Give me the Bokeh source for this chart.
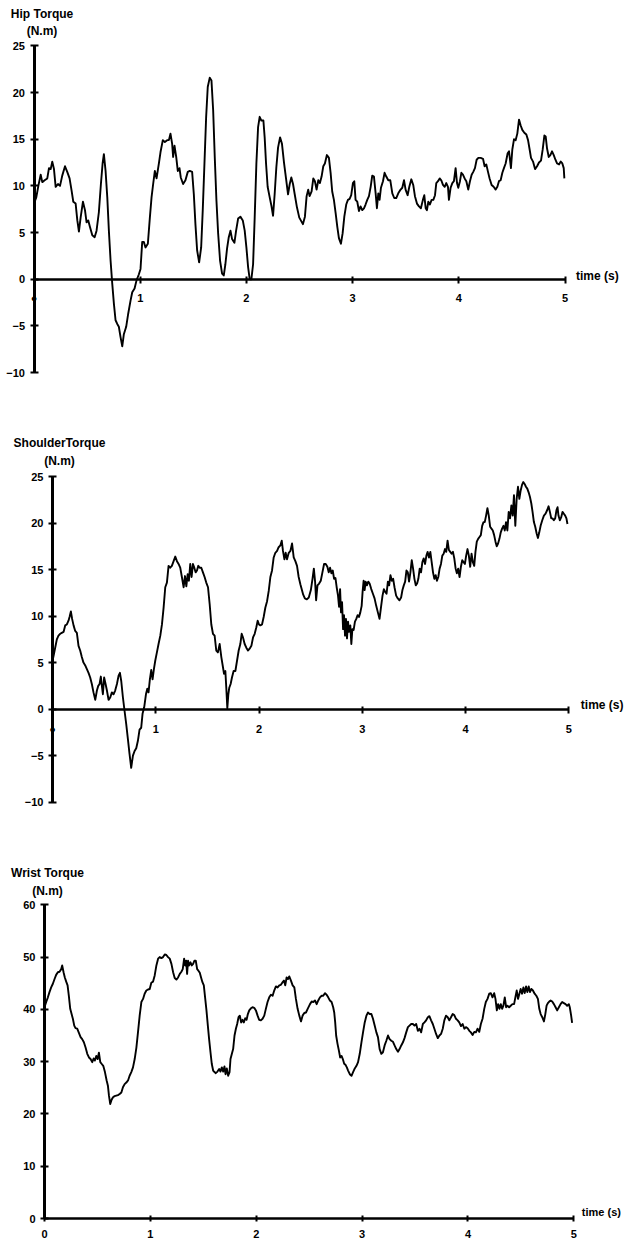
from bokeh.plotting import figure
from bokeh.models import Range1d, LinearAxis, FixedTicker, Label, ColumnDataSource
from bokeh.embed import file_html
from bokeh.resources import INLINE

FONT = "Liberation Sans"
W, H = 625, 1241

time_ticks = [0, 1, 2, 3, 4, 5]
hip_ticks = [-10, -5, 0, 5, 10, 15, 20, 25]
shoulder_ticks = [-10, -5, 0, 5, 10, 15, 20, 25]
wrist_ticks = [0, 10, 20, 30, 40, 50, 60]

# (time s, torque N.m) samples
hip_samples = [
    (0, 8.1), (.022, 8.8), (.041, 10.0), (.063, 11.2), (.078, 10.4), (.1, 10.6), (.125, 10.8), (.141, 11.9),
    (.157, 11.8), (.172, 12.6), (.188, 11.8), (.204, 9.9), (.226, 10.2), (.245, 10.0), (.266, 11.1), (.292, 12.1),
    (.313, 11.5), (.335, 10.8), (.354, 9.5), (.37, 8.3), (.392, 8.1), (.408, 6.3), (.423, 5.1), (.439, 6.6),
    (.461, 8.3), (.48, 7.4), (.495, 6.1), (.511, 6.3), (.527, 5.6), (.549, 4.7), (.571, 4.5), (.589, 5.2),
    (.611, 7.2), (.63, 10.2), (.646, 12.4), (.658, 13.4), (.674, 11.6), (.69, 8.8), (.705, 5.2), (.721, 2.0),
    (.737, -0.5), (.752, -2.6), (.768, -4.4), (.784, -4.8), (.799, -5.1), (.815, -6.2), (.831, -7.2), (.846, -5.9),
    (.868, -5.1), (.887, -3.7), (.909, -2.3), (.925, -1.4), (.947, -1.0), (.966, -0.1), (.987, 0.5), (1.003, 1.1),
    (1.019, 4.0), (1.034, 4.0), (1.05, 3.4), (1.072, 3.8), (1.091, 6.6), (1.107, 8.8), (1.122, 10.2), (1.138, 11.6),
    (1.154, 10.8), (1.176, 12.4), (1.191, 13.6), (1.213, 14.9), (1.232, 14.7), (1.254, 14.9), (1.27, 14.9), (1.285, 15.6),
    (1.301, 14.5), (1.31, 13.1), (1.323, 14.3), (1.339, 13.1), (1.354, 11.6), (1.37, 11.9), (1.382, 10.9), (1.404, 10.2),
    (1.426, 10.6), (1.448, 11.5), (1.467, 11.6), (1.489, 11.5), (1.505, 9.1), (1.52, 5.9), (1.536, 3.1), (1.555, 1.8),
    (1.574, 3.4), (1.589, 7.4), (1.605, 12.4), (1.621, 17.4), (1.636, 20.6), (1.655, 21.6), (1.671, 21.3), (1.687, 18.1),
    (1.702, 13.1), (1.718, 8.4), (1.734, 4.9), (1.752, 2.0), (1.771, 0.6), (1.787, 0.4), (1.802, 1.6), (1.818, 3.3),
    (1.834, 4.5), (1.85, 5.2), (1.865, 4.3), (1.887, 3.9), (1.903, 5.2), (1.922, 6.5), (1.944, 6.7), (1.966, 6.3),
    (1.984, 5.2), (2.0, 3.4), (2.016, 1.3), (2.031, 0.0), (2.047, 0.0), (2.063, 1.6), (2.078, 6.6), (2.094, 12.4),
    (2.11, 16.3), (2.125, 17.4), (2.141, 17.0), (2.16, 17.0), (2.172, 15.2), (2.185, 12.4), (2.2, 9.9), (2.219, 8.8),
    (2.235, 7.9), (2.251, 6.8), (2.266, 9.1), (2.282, 12.0), (2.298, 14.1), (2.317, 15.2), (2.335, 14.5), (2.354, 12.5),
    (2.373, 10.8), (2.392, 9.1), (2.408, 10.2), (2.423, 10.9), (2.439, 10.2), (2.455, 9.1), (2.476, 7.7), (2.498, 6.6),
    (2.532, 5.9), (2.551, 6.7), (2.567, 8.9), (2.582, 9.6), (2.595, 8.9), (2.614, 9.4), (2.63, 10.8), (2.645, 10.5),
    (2.661, 9.6), (2.677, 10.6), (2.692, 10.3), (2.708, 11.0), (2.724, 12.1), (2.739, 12.4), (2.758, 13.3), (2.777, 13.0),
    (2.793, 11.4), (2.808, 9.4), (2.824, 8.5), (2.84, 7.1), (2.856, 5.6), (2.871, 4.4), (2.89, 3.8), (2.906, 4.9),
    (2.922, 6.7), (2.94, 8.0), (2.956, 8.5), (2.972, 8.6), (2.987, 9.0), (3.003, 10.3), (3.016, 10.5), (3.028, 8.5),
    (3.044, 8.3), (3.06, 7.3), (3.075, 7.8), (3.091, 7.4), (3.107, 7.6), (3.122, 8.0), (3.138, 8.5), (3.154, 8.9),
    (3.17, 9.9), (3.185, 11.1), (3.201, 11.0), (3.217, 9.2), (3.229, 7.6), (3.242, 9.2), (3.254, 8.5), (3.267, 9.8),
    (3.286, 10.5), (3.301, 11.4), (3.317, 11.0), (3.336, 10.6), (3.355, 10.6), (3.374, 9.2), (3.392, 8.7), (3.411, 8.7),
    (3.43, 9.2), (3.452, 9.6), (3.468, 9.8), (3.484, 10.6), (3.499, 9.6), (3.518, 9.0), (3.534, 9.9), (3.553, 10.7),
    (3.571, 10.1), (3.587, 8.9), (3.606, 8.1), (3.625, 7.8), (3.643, 7.6), (3.662, 8.5), (3.675, 9.0), (3.688, 7.6),
    (3.7, 7.4), (3.713, 8.3), (3.728, 8.0), (3.744, 8.5), (3.76, 8.5), (3.776, 9.0), (3.788, 10.3), (3.804, 10.5),
    (3.82, 10.8), (3.835, 10.6), (3.851, 10.1), (3.867, 9.9), (3.882, 10.3), (3.898, 9.9), (3.907, 8.5), (3.923, 9.8),
    (3.939, 10.3), (3.954, 10.5), (3.97, 11.9), (3.983, 10.3), (3.995, 9.8), (4.011, 10.5), (4.024, 11.4), (4.039, 11.2),
    (4.055, 10.8), (4.071, 10.5), (4.089, 9.6), (4.105, 10.5), (4.121, 11.2), (4.136, 11.5), (4.152, 11.9), (4.168, 12.8),
    (4.184, 13.0), (4.206, 13.0), (4.228, 12.9), (4.243, 12.1), (4.259, 12.3), (4.275, 11.5), (4.29, 10.8), (4.309, 10.1),
    (4.328, 9.9), (4.347, 9.6), (4.363, 9.9), (4.378, 10.5), (4.394, 10.6), (4.41, 11.4), (4.425, 11.9), (4.441, 12.4),
    (4.46, 13.5), (4.473, 13.7), (4.482, 12.8), (4.491, 11.9), (4.504, 13.9), (4.52, 15.0), (4.535, 14.9), (4.551, 15.6),
    (4.567, 17.1), (4.582, 16.5), (4.598, 16.0), (4.617, 15.7), (4.636, 15.5), (4.652, 14.9), (4.667, 13.9), (4.68, 13.0),
    (4.699, 12.6), (4.718, 11.8), (4.737, 12.1), (4.755, 12.5), (4.774, 12.7), (4.79, 13.9), (4.806, 15.4), (4.818, 15.3),
    (4.831, 14.0), (4.847, 13.1), (4.862, 13.3), (4.878, 13.7), (4.894, 13.3), (4.91, 12.8), (4.925, 12.4), (4.944, 12.3),
    (4.96, 12.6), (4.975, 12.4), (4.988, 11.9), (4.994, 10.8),
]

shoulder_samples = [
    (0, 5.2), (.01, 5.7), (.026, 6.6), (.042, 7.5), (.058, 7.9), (.074, 8.1), (.09, 8.2), (.107, 8.3),
    (.123, 9.0), (.139, 9.1), (.155, 9.5), (.165, 9.9), (.178, 10.5), (.19, 9.7), (.204, 9.0), (.22, 8.4),
    (.236, 8.2), (.252, 6.8), (.268, 6.3), (.284, 5.6), (.3, 5.0), (.317, 4.7), (.333, 4.3), (.349, 3.9),
    (.365, 3.4), (.381, 2.7), (.397, 1.8), (.414, 1.0), (.43, 2.0), (.443, 2.5), (.456, 2.7), (.468, 3.5),
    (.478, 2.5), (.488, 1.6), (.5, 3.4), (.514, 2.7), (.527, 2.0), (.543, 1.0), (.559, 1.25), (.575, 1.8),
    (.591, 1.6), (.607, 2.0), (.624, 2.7), (.64, 3.6), (.653, 3.9), (.666, 3.0), (.682, 1.25), (.698, -0.2),
    (.714, -1.6), (.73, -3.2), (.746, -4.8), (.762, -6.3), (.779, -5.0), (.795, -4.5), (.811, -4.2), (.827, -3.4),
    (.843, -2.2), (.859, -2.0), (.872, -0.5), (.888, 0.2), (.905, 1.6), (.918, 2.2), (.93, 1.8), (.943, 3.2),
    (.956, 4.2), (.969, 3.2), (.982, 4.3), (.995, 5.2), (1.011, 6.1), (1.027, 7.0), (1.044, 7.9), (1.06, 9.1),
    (1.076, 10.9), (1.092, 13.1), (1.108, 13.6), (1.124, 15.4), (1.14, 15.2), (1.156, 15.4), (1.173, 15.9), (1.189, 16.4),
    (1.205, 15.9), (1.221, 15.6), (1.237, 15.2), (1.253, 14.2), (1.27, 13.1), (1.283, 14.3), (1.296, 13.2), (1.309, 14.5),
    (1.321, 13.8), (1.334, 15.6), (1.347, 14.2), (1.36, 15.6), (1.373, 15.2), (1.386, 14.7), (1.399, 14.9), (1.412, 15.4),
    (1.425, 15.2), (1.441, 15.2), (1.457, 14.7), (1.473, 14.2), (1.489, 13.6), (1.506, 13.1), (1.522, 11.3), (1.538, 9.1),
    (1.554, 8.1), (1.57, 7.9), (1.586, 6.3), (1.602, 6.1), (1.619, 7.0), (1.635, 5.6), (1.651, 4.5), (1.661, 3.8),
    (1.674, 4.1), (1.683, 2.3), (1.693, 0.1), (1.703, 1.6), (1.712, 2.3), (1.725, 2.7), (1.738, 3.4), (1.754, 4.1),
    (1.771, 4.1), (1.787, 5.2), (1.803, 6.3), (1.819, 7.0), (1.832, 8.1), (1.845, 7.7), (1.861, 7.0), (1.877, 6.6),
    (1.893, 6.3), (1.909, 6.5), (1.926, 6.8), (1.942, 7.7), (1.958, 8.1), (1.974, 8.8), (1.987, 9.5), (2.0, 9.1),
    (2.013, 9.0), (2.029, 9.1), (2.045, 9.9), (2.061, 10.9), (2.078, 11.6), (2.094, 12.7), (2.11, 14.2), (2.126, 14.9),
    (2.142, 16.3), (2.158, 16.8), (2.175, 17.0), (2.19, 17.4), (2.207, 17.6), (2.22, 18.1), (2.232, 17.0), (2.246, 16.1),
    (2.258, 16.8), (2.271, 16.1), (2.288, 16.8), (2.304, 17.0), (2.32, 17.8), (2.336, 16.3), (2.352, 15.9), (2.368, 15.4),
    (2.384, 14.2), (2.401, 13.4), (2.428, 12.3), (2.444, 11.9), (2.463, 11.8), (2.482, 12.0), (2.502, 12.8), (2.518, 14.0),
    (2.531, 15.1), (2.543, 13.7), (2.553, 11.7), (2.566, 13.3), (2.582, 13.5), (2.598, 13.8), (2.614, 14.7), (2.63, 15.6),
    (2.646, 15.6), (2.662, 15.3), (2.675, 14.7), (2.688, 15.2), (2.701, 14.6), (2.714, 14.9), (2.727, 14.0), (2.74, 14.1),
    (2.752, 13.1), (2.765, 12.2), (2.775, 11.0), (2.785, 12.9), (2.794, 10.4), (2.804, 11.5), (2.814, 8.6), (2.823, 10.1),
    (2.833, 7.9), (2.842, 9.7), (2.852, 7.6), (2.862, 9.4), (2.871, 8.3), (2.884, 9.0), (2.894, 7.0), (2.904, 8.6),
    (2.916, 8.5), (2.929, 9.4), (2.942, 9.7), (2.955, 10.1), (2.968, 9.9), (2.981, 10.4), (2.994, 11.1), (3.003, 12.6),
    (3.013, 13.8), (3.023, 12.8), (3.032, 13.7), (3.045, 13.3), (3.058, 13.7), (3.071, 13.5), (3.087, 12.9), (3.103, 12.4),
    (3.119, 11.9), (3.135, 11.1), (3.151, 10.4), (3.167, 9.7), (3.183, 11.1), (3.196, 12.2), (3.209, 12.9), (3.222, 12.6),
    (3.235, 12.4), (3.248, 13.7), (3.26, 13.3), (3.273, 14.4), (3.286, 13.8), (3.299, 14.0), (3.312, 13.1), (3.328, 12.2),
    (3.344, 11.9), (3.36, 11.7), (3.376, 12.0), (3.389, 12.8), (3.402, 13.3), (3.415, 13.7), (3.428, 14.9), (3.441, 14.7),
    (3.453, 13.7), (3.466, 14.7), (3.479, 16.0), (3.492, 15.1), (3.505, 14.0), (3.518, 13.3), (3.531, 13.5), (3.543, 14.0),
    (3.556, 15.1), (3.569, 14.7), (3.582, 15.8), (3.595, 16.2), (3.608, 15.6), (3.621, 16.5), (3.633, 16.9), (3.646, 16.3),
    (3.659, 16.9), (3.672, 15.8), (3.685, 14.7), (3.698, 14.0), (3.711, 14.4), (3.723, 13.8), (3.736, 14.2), (3.749, 15.1),
    (3.762, 15.6), (3.775, 16.5), (3.788, 16.7), (3.801, 17.2), (3.813, 16.9), (3.826, 18.1), (3.839, 17.1), (3.852, 16.9),
    (3.865, 16.7), (3.878, 16.9), (3.891, 16.2), (3.904, 15.1), (3.916, 14.6), (3.929, 15.1), (3.942, 14.2), (3.955, 15.3),
    (3.968, 16.0), (3.981, 15.8), (3.994, 15.6), (4.006, 16.5), (4.019, 17.2), (4.032, 16.5), (4.045, 15.3), (4.058, 16.7),
    (4.071, 15.8), (4.084, 15.4), (4.096, 16.9), (4.109, 18.0), (4.122, 18.3), (4.135, 18.5), (4.148, 18.7), (4.161, 19.7),
    (4.174, 20.1), (4.186, 20.1), (4.199, 20.8), (4.212, 21.6), (4.225, 20.8), (4.238, 19.6), (4.251, 19.4), (4.264, 19.2),
    (4.277, 18.7), (4.29, 18.0), (4.302, 17.5), (4.315, 17.8), (4.328, 18.3), (4.341, 19.0), (4.354, 19.4), (4.367, 19.7),
    (4.38, 19.2), (4.392, 20.1), (4.405, 19.2), (4.418, 21.2), (4.431, 20.5), (4.444, 21.9), (4.457, 20.8), (4.469, 23.0),
    (4.482, 19.7), (4.495, 22.6), (4.508, 23.9), (4.521, 22.6), (4.534, 23.5), (4.547, 24.1), (4.559, 24.4), (4.572, 24.2),
    (4.585, 23.9), (4.598, 23.7), (4.611, 23.3), (4.624, 22.8), (4.637, 22.1), (4.649, 21.2), (4.662, 20.1), (4.675, 19.6),
    (4.688, 18.9), (4.701, 18.4), (4.714, 19.0), (4.727, 19.7), (4.743, 20.3), (4.759, 20.8), (4.775, 21.0), (4.791, 21.4),
    (4.804, 21.8), (4.817, 21.2), (4.83, 20.5), (4.842, 20.5), (4.855, 20.3), (4.868, 20.5), (4.881, 21.4), (4.891, 21.7),
    (4.9, 20.8), (4.913, 20.3), (4.926, 20.6), (4.939, 21.2), (4.952, 21.0), (4.965, 20.8), (4.977, 20.5), (4.987, 19.9),
]

wrist_samples = [
    (0, 40.4), (.016, 41.4), (.032, 42.3), (.047, 43.3), (.063, 44.2), (.079, 44.9), (.095, 45.8), (.11, 46.6),
    (.126, 47.1), (.142, 47.2), (.158, 47.7), (.167, 48.4), (.18, 47.1), (.192, 46.1), (.205, 45.3), (.218, 44.6),
    (.23, 42.6), (.243, 40.1), (.256, 39.1), (.268, 38.2), (.281, 36.9), (.293, 36.4), (.309, 36.3), (.325, 35.5),
    (.341, 34.7), (.356, 34.3), (.372, 33.7), (.388, 32.7), (.404, 31.5), (.42, 30.8), (.435, 30.5), (.451, 29.9),
    (.464, 30.6), (.476, 30.2), (.489, 31.1), (.502, 30.5), (.514, 31.7), (.527, 29.9), (.539, 29.6), (.555, 29.2),
    (.571, 28.0), (.587, 26.4), (.599, 25.4), (.609, 23.5), (.621, 21.9), (.634, 22.7), (.647, 23.2), (.662, 23.4),
    (.678, 23.5), (.694, 23.6), (.71, 23.8), (.726, 24.1), (.741, 25.1), (.757, 25.7), (.773, 26.0), (.789, 26.4),
    (.804, 27.3), (.82, 28.0), (.836, 28.9), (.852, 30.5), (.868, 32.7), (.883, 35.6), (.899, 38.8), (.915, 41.4),
    (.931, 42.0), (.946, 43.0), (.962, 43.6), (.978, 43.8), (.994, 43.9), (1.009, 45.1), (1.025, 45.3), (1.041, 46.5),
    (1.057, 48.4), (1.073, 49.7), (1.088, 50.0), (1.104, 49.8), (1.12, 50.0), (1.136, 50.5), (1.151, 50.4), (1.167, 50.0),
    (1.183, 49.7), (1.199, 48.7), (1.215, 47.1), (1.23, 46.0), (1.246, 45.7), (1.262, 46.1), (1.278, 46.8), (1.293, 47.2),
    (1.306, 47.7), (1.319, 49.7), (1.328, 48.4), (1.338, 49.3), (1.347, 46.8), (1.356, 49.3), (1.366, 48.4), (1.379, 49.0),
    (1.391, 48.4), (1.404, 48.7), (1.416, 49.3), (1.429, 49.3), (1.442, 47.7), (1.454, 47.4), (1.467, 47.0), (1.479, 46.1),
    (1.492, 45.2), (1.505, 44.6), (1.517, 42.3), (1.53, 39.8), (1.543, 36.9), (1.555, 34.3), (1.568, 31.8), (1.58, 29.6),
    (1.593, 28.3), (1.606, 28.0), (1.618, 27.8), (1.634, 28.1), (1.65, 28.6), (1.662, 28.1), (1.675, 28.9), (1.688, 28.1),
    (1.7, 29.1), (1.71, 27.6), (1.722, 28.7), (1.735, 27.3), (1.748, 28.0), (1.757, 30.5), (1.77, 31.5), (1.782, 32.4),
    (1.795, 35.0), (1.808, 36.3), (1.82, 37.2), (1.833, 38.5), (1.845, 38.8), (1.858, 37.5), (1.871, 38.0), (1.883, 37.5),
    (1.896, 38.3), (1.909, 38.0), (1.921, 39.1), (1.934, 39.8), (1.95, 40.2), (1.965, 40.4), (1.981, 40.3), (1.997, 39.8),
    (2.013, 38.8), (2.028, 38.0), (2.044, 37.9), (2.06, 38.2), (2.076, 38.8), (2.091, 40.1), (2.107, 41.4), (2.123, 42.3),
    (2.139, 42.8), (2.155, 42.6), (2.17, 43.6), (2.186, 44.4), (2.202, 44.2), (2.218, 44.6), (2.233, 44.7), (2.249, 45.2),
    (2.262, 45.5), (2.274, 44.6), (2.287, 46.1), (2.3, 45.8), (2.312, 46.3), (2.328, 45.5), (2.344, 44.6), (2.36, 44.2),
    (2.375, 42.0), (2.391, 40.1), (2.407, 38.8), (2.423, 37.7), (2.438, 38.8), (2.454, 39.3), (2.47, 39.4), (2.486, 40.1),
    (2.508, 41.0), (2.524, 41.5), (2.539, 41.4), (2.555, 41.7), (2.571, 41.0), (2.586, 41.7), (2.602, 42.3), (2.618, 42.6),
    (2.633, 42.6), (2.649, 43.1), (2.665, 42.8), (2.68, 42.3), (2.696, 41.7), (2.712, 41.4), (2.727, 40.4), (2.737, 39.4),
    (2.746, 37.5), (2.755, 35.0), (2.768, 33.4), (2.781, 32.1), (2.793, 30.8), (2.806, 31.1), (2.818, 30.5), (2.831, 29.6),
    (2.843, 29.4), (2.856, 28.9), (2.868, 28.3), (2.884, 27.6), (2.9, 27.3), (2.915, 28.0), (2.931, 28.7), (2.947, 29.2),
    (2.962, 29.9), (2.978, 31.5), (2.994, 33.7), (3.009, 35.6), (3.025, 37.5), (3.041, 38.8), (3.056, 39.4), (3.072, 39.1),
    (3.088, 39.1), (3.103, 38.2), (3.119, 36.9), (3.135, 35.6), (3.15, 34.7), (3.166, 32.4), (3.182, 31.5), (3.197, 31.8),
    (3.213, 33.1), (3.229, 34.0), (3.245, 35.0), (3.26, 34.3), (3.276, 34.0), (3.292, 33.8), (3.307, 33.1), (3.323, 32.4),
    (3.339, 31.9), (3.354, 32.4), (3.37, 33.1), (3.386, 33.7), (3.401, 34.5), (3.417, 35.6), (3.433, 36.6), (3.448, 36.9),
    (3.464, 37.2), (3.48, 37.2), (3.495, 36.9), (3.511, 37.2), (3.527, 35.9), (3.542, 36.3), (3.558, 35.6), (3.574, 37.2),
    (3.589, 37.5), (3.605, 37.9), (3.621, 38.5), (3.636, 38.7), (3.652, 37.9), (3.668, 37.2), (3.683, 36.3), (3.699, 35.3),
    (3.715, 34.5), (3.731, 35.0), (3.746, 35.3), (3.762, 36.3), (3.777, 37.9), (3.793, 38.8), (3.809, 38.5), (3.824, 37.9),
    (3.84, 38.5), (3.856, 39.1), (3.871, 38.9), (3.887, 38.2), (3.903, 37.9), (3.918, 37.5), (3.934, 36.8), (3.95, 37.2),
    (3.966, 36.3), (3.981, 36.6), (3.997, 36.4), (4.013, 35.9), (4.028, 35.6), (4.044, 35.1), (4.06, 35.7), (4.075, 35.6),
    (4.091, 36.3), (4.107, 35.7), (4.122, 37.2), (4.138, 38.2), (4.154, 40.1), (4.169, 41.4), (4.185, 42.0), (4.201, 43.0),
    (4.216, 43.1), (4.232, 42.3), (4.248, 43.1), (4.26, 42.0), (4.273, 39.8), (4.285, 41.0), (4.298, 40.1), (4.31, 41.0),
    (4.323, 40.1), (4.335, 40.7), (4.348, 42.3), (4.361, 40.4), (4.373, 40.7), (4.389, 40.4), (4.404, 40.7), (4.42, 41.0),
    (4.436, 41.0), (4.448, 42.3), (4.461, 43.6), (4.473, 42.0), (4.486, 43.0), (4.498, 43.9), (4.511, 43.0), (4.524, 44.2),
    (4.536, 43.1), (4.549, 44.4), (4.561, 43.3), (4.574, 44.4), (4.586, 43.3), (4.599, 43.9), (4.614, 43.6), (4.63, 43.0),
    (4.646, 42.6), (4.661, 42.0), (4.674, 40.1), (4.687, 39.1), (4.702, 38.5), (4.718, 37.7), (4.731, 39.1), (4.743, 40.7),
    (4.755, 41.2), (4.768, 41.5), (4.781, 41.7), (4.796, 41.5), (4.812, 41.0), (4.828, 40.4), (4.843, 39.8), (4.859, 40.4),
    (4.875, 41.0), (4.89, 41.4), (4.906, 41.2), (4.922, 41.0), (4.937, 40.7), (4.953, 41.0), (4.962, 40.4), (4.975, 38.8),
    (4.984, 37.4),
]


def span_range(v_a, px_a, v_b, px_b, total):
    """Range over the whole canvas such that value v_a lands on pixel px_a and v_b on px_b."""
    k = (v_b - v_a) / (px_b - px_a)
    start = v_a - px_a * k
    return Range1d(start, start + total * k)


p = figure(width=W, height=H, x_range=Range1d(0, W), y_range=Range1d(0, H),
           x_axis_location=None, y_axis_location=None,
           output_backend="svg", toolbar_location=None,
           min_border=0, min_border_left=0, min_border_right=0,
           min_border_top=0, min_border_bottom=0)
p.outline_line_color = None
p.grid.visible = False
p.background_fill_color = "white"
p.border_fill_color = "white"

label_style = dict(text_font=FONT, text_font_style="bold",
                   text_color="black", text_baseline="middle")


def panel(name, samples, yticks, title, x0px, x5px, ytop_px, ybot_px,
          title_dx, title_dy, unit_dy, time_dx, time_dy, time_size,
          x_standoff, x_tick_out, hide_zero):
    xr, yr = name + "_x", name + "_y"
    lo, hi = yticks[0], yticks[-1]
    p.extra_x_ranges[xr] = span_range(time_ticks[0], x0px, time_ticks[-1], x5px, W)
    p.extra_y_ranges[yr] = span_range(lo, H - ybot_px, hi, H - ytop_px, H)

    src = ColumnDataSource(data=dict(t=[s[0] for s in samples], v=[s[1] for s in samples]))
    p.line("t", "v", source=src, x_range_name=xr, y_range_name=yr,
           line_color="black", line_width=1.9, line_join="round")

    yax = LinearAxis(x_range_name=xr, y_range_name=yr, fixed_location=0, bounds=(lo, hi),
                     ticker=FixedTicker(ticks=yticks),
                     axis_line_width=3, axis_line_color="black",
                     major_tick_line_width=2, major_tick_in=4, major_tick_out=4,
                     minor_tick_line_color=None, major_label_standoff=5,
                     major_label_text_font=FONT, major_label_text_font_style="bold",
                     major_label_text_font_size="11px", major_label_text_color="black")
    p.add_layout(yax, "left")

    overrides = {0: "\u25cf"} if hide_zero else {}
    xax = LinearAxis(x_range_name=xr, y_range_name=yr, fixed_location=0,
                     bounds=(time_ticks[0], time_ticks[-1]),
                     ticker=FixedTicker(ticks=time_ticks),
                     axis_line_width=2.5, axis_line_color="black",
                     major_tick_line_width=2, major_tick_in=3, major_tick_out=x_tick_out,
                     minor_tick_line_color=None, major_label_standoff=x_standoff,
                     major_label_overrides=overrides,
                     major_label_text_font=FONT, major_label_text_font_style="bold",
                     major_label_text_font_size="11px", major_label_text_color="black")
    p.add_layout(xax, "below")

    p.add_layout(Label(x=0, y=hi, x_range_name=xr, y_range_name=yr,
                       x_offset=title_dx, y_offset=title_dy, text=title,
                       text_align="center", text_font_size="12px", **label_style))
    p.add_layout(Label(x=0, y=hi, x_range_name=xr, y_range_name=yr,
                       x_offset=title_dx, y_offset=unit_dy, text="(N.m)",
                       text_align="center", text_font_size="12px", **label_style))
    p.add_layout(Label(x=time_ticks[-1], y=0, x_range_name=xr, y_range_name=yr,
                       x_offset=time_dx, y_offset=time_dy, text="time (s)",
                       text_align="left", text_font_size=time_size, **label_style))


panel("hip", hip_samples, hip_ticks, "Hip Torque", 33.5, 564.5, 45.4, 372.0,
      8, 32, 15.4, 11, 3, "12px", 9, 4, True)
panel("shoulder", shoulder_samples, shoulder_ticks, "ShoulderTorque", 52.0, 568.3, 476.0, 801.7,
      7, 33.3, 15.3, 12, 4, "12px", 10, 4, True)
panel("wrist", wrist_samples, wrist_ticks, "Wrist Torque", 44.0, 573.3, 904.3, 1218.0,
      3, 31.6, 14.3, 8, 7, "11px", 8, 3, False)

open("out.html", "w").write(file_html(p, INLINE))
